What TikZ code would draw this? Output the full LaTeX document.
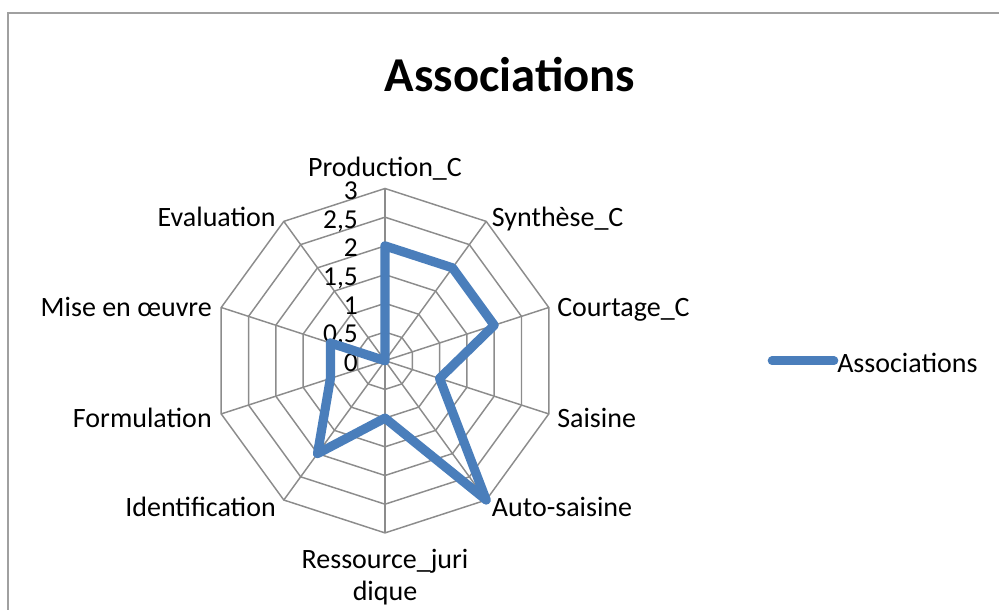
\documentclass[tikz,border=0pt]{standalone}
\usepackage{fontspec}
\setmainfont{Carlito}
\definecolor{gridgray}{HTML}{8C8C8C}
\definecolor{framegray}{HTML}{A0A0A0}
\definecolor{serblue}{HTML}{4A7EBB}
\begin{document}
\begin{tikzpicture}[x=0.75pt,y=-0.75pt,
  gridline/.style={draw=gridgray,line width=1.1pt},
  axlabel/.style={font=\fontsize{21}{24}\selectfont,inner sep=0pt},
  ticklabel/.style={font=\fontsize{20.5}{24}\selectfont,inner sep=0pt,anchor=base east},
  series/.style={draw=serblue,line width=6.9pt,line join=round,line cap=round}]
\useasboundingbox (0,0) rectangle (999,610);
\draw[framegray,line width=1.6pt] (8,612) -- (8,13) -- (1001,13);
% title
\node[font=\fontsize{36.5}{40}\selectfont\bfseries,inner sep=0pt,anchor=base] (title) at (510,91) {Associations};
% centre and grid
\coordinate (O) at (385,360.7);
\foreach \k in {1,...,6}{
  \draw[gridline] plot[samples at={90,54,...,-234}] ({385+cos(\x)*\k*28.7},{360.7-sin(\x)*\k*28.7}) -- cycle;
}
\foreach \i in {0,...,9}{
  \coordinate (v\i) at ({385+cos(90-36*\i)*172.2},{360.7-sin(90-36*\i)*172.2});
  \draw[gridline] (O) -- (v\i);
}
% tick labels
\foreach \k/\t in {0/0,1/{0,5},2/1,3/{1,5},4/2,5/{2,5},6/3}{
  \node[ticklabel] (t\k) at (358,{360.7-\k*28.7+10.8}) {\t};
}
% data
\foreach \i/\v in {0/2,1/2,2/2,3/1,4/3,5/1,6/2,7/1,8/1,9/0}{
  \coordinate (d\i) at ({385+cos(90-36*\i)*\v*57.4},{360.7-sin(90-36*\i)*\v*57.4});
}
\draw[series] (d0) -- (d1) -- (d2) -- (d3) -- (d4) -- (d5) -- (d6) -- (d7) -- (d8) -- (d9) -- cycle;
% axis labels
\node[axlabel,anchor=base] (l0) at (385,176) {Production\_C};
\node[axlabel,anchor=base west] (l1) at (491.7,226) {Synthèse\_C};
\node[axlabel,anchor=base west] (l2) at (557,316) {Courtage\_C};
\node[axlabel,anchor=base west] (l3) at (557,427.3) {Saisine};
\node[axlabel,anchor=base west] (l4) at (491.7,516.7) {Auto-saisine};
\node[axlabel,anchor=base,align=center] (l5) at (385,600) {Ressource\_juri\\dique};
\node[axlabel,anchor=base east] (l6) at (276,516.7) {Identification};
\node[axlabel,anchor=base east] (l7) at (212,427.3) {Formulation};
\node[axlabel,anchor=base east] (l8) at (212,316) {Mise en œuvre};
\node[axlabel,anchor=base east] (l9) at (276,226) {Evaluation};
% legend
\coordinate (lg1) at (772,360.7);
\coordinate (lg2) at (834,360.7);
\draw[series,line width=6.5pt] (lg1) -- (lg2);
\node[axlabel,anchor=base west] (lgtext) at (837,372.3) {Associations};
\end{tikzpicture}
\end{document}
